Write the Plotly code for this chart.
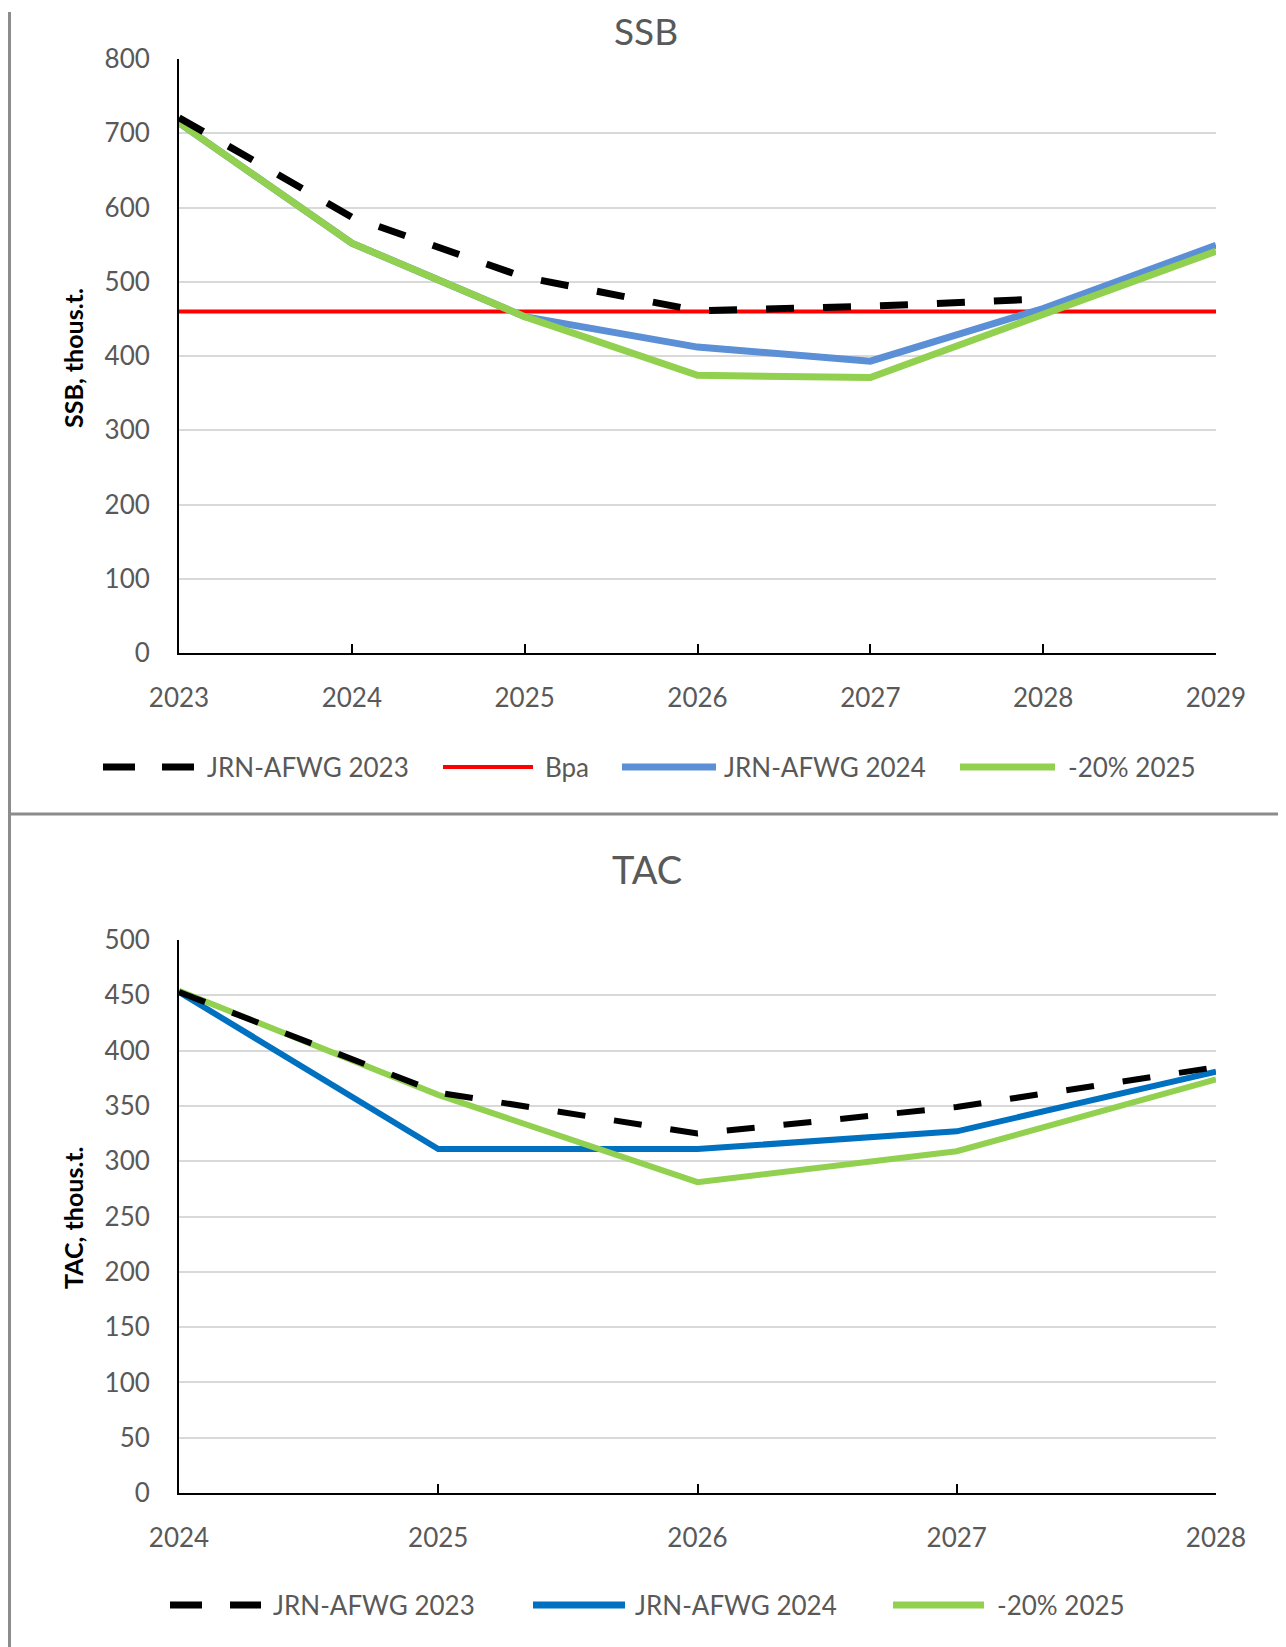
import plotly.graph_objects as go

# the page body adds an 8px margin, so the figure is drawn 8px smaller and
# every layout coordinate below is given in page pixels and shifted by it
PAGE_W, PAGE_H = 1286, 1647
OFF = 8
W, H = PAGE_W - OFF, PAGE_H - OFF

# SSB panel (thous. t)
ssb_years = [2023, 2024, 2025, 2026, 2027, 2028, 2029]
ssb_jrn_2023 = [721, 587, 506, 461, 467, 477, None]
ssb_jrn_2024 = [714, 552, 453, 412, 393, 464, 549]
ssb_cut_2025 = [714, 552, 453, 374, 371, 455, 541]
bpa_years = [2023, 2029]
bpa_values = [460, 460]

# TAC panel (thous. t)
tac_years = [2024, 2025, 2026, 2027, 2028]
tac_jrn_2023 = [453, 362, 325, 349, 385]
tac_jrn_2024 = [453, 311, 311, 327, 381]
tac_cut_2025 = [454, 360, 281, 309, 374]

FONT = "Lato"
GREY_TXT = "#595959"
BLACK = "#000000"
RED = "#FF0000"
LIGHT_BLUE = "#5B8FD6"
DARK_BLUE = "#0070C0"
GREEN = "#92D050"
DASH = "28px,29px"


def px(x):
    return (x - OFF) / W


def py(y):
    return 1 - (y - OFF) / H


fig = go.Figure()

# top panel: red first, black dashed on top
fig.add_trace(go.Scatter(x=bpa_years, y=bpa_values, mode="lines", line=dict(color=RED, width=4),
                         name="Bpa", xaxis="x", yaxis="y"))
fig.add_trace(go.Scatter(x=ssb_years, y=ssb_jrn_2024, mode="lines", line=dict(color=LIGHT_BLUE, width=7),
                         name="JRN-AFWG 2024", xaxis="x", yaxis="y"))
fig.add_trace(go.Scatter(x=ssb_years, y=ssb_cut_2025, mode="lines", line=dict(color=GREEN, width=7),
                         name="-20% 2025", xaxis="x", yaxis="y"))
fig.add_trace(go.Scatter(x=ssb_years, y=ssb_jrn_2023, mode="lines", line=dict(color=BLACK, width=7, dash=DASH),
                         name="JRN-AFWG 2023", xaxis="x", yaxis="y"))

# bottom panel
fig.add_trace(go.Scatter(x=tac_years, y=tac_jrn_2024, mode="lines", line=dict(color=DARK_BLUE, width=6),
                         name="JRN-AFWG 2024", xaxis="x2", yaxis="y2"))
fig.add_trace(go.Scatter(x=tac_years, y=tac_cut_2025, mode="lines", line=dict(color=GREEN, width=6),
                         name="-20% 2025", xaxis="x2", yaxis="y2"))
fig.add_trace(go.Scatter(x=tac_years, y=tac_jrn_2023, mode="lines", line=dict(color=BLACK, width=6, dash=DASH),
                         name="JRN-AFWG 2023", xaxis="x2", yaxis="y2"))

tickfont = dict(family=FONT, size=26, color=GREY_TXT)
xcommon = dict(showline=True, linecolor=BLACK, linewidth=2, ticks="inside", ticklen=9, tickwidth=2,
               tickcolor=BLACK, showgrid=False, zeroline=False, tickfont=tickfont,
               ticklabelstandoff=21, domain=[px(179), px(1216)], automargin=False)
ycommon = dict(showline=True, linecolor=BLACK, linewidth=2, ticks="", showgrid=True,
               gridcolor="#D9D9D9", gridwidth=2, zeroline=False, tickfont=tickfont,
               ticklabelstandoff=22, automargin=False)

fig.update_layout(
    width=W, height=H,
    margin=dict(l=0, r=0, t=0, b=0, pad=0, autoexpand=False),
    paper_bgcolor="white", plot_bgcolor="white",
    showlegend=False,
    xaxis=dict(xcommon, range=[2023, 2029], tickvals=ssb_years, anchor="y"),
    yaxis=dict(ycommon, range=[0, 800], dtick=100, domain=[py(653), py(59)], anchor="x"),
    xaxis2=dict(xcommon, range=[2024, 2028], tickvals=tac_years, anchor="y2"),
    yaxis2=dict(ycommon, range=[0, 500], dtick=50, domain=[py(1493), py(940)], anchor="x2"),
)

ann = []
ann.append(dict(text="SSB", x=px(646), y=py(31), font=dict(family=FONT, size=37, color=GREY_TXT)))
ann.append(dict(text="TAC", x=px(647), y=py(869), font=dict(family=FONT, size=38, color=GREY_TXT)))
ann.append(dict(text="<b>SSB, thous.t.</b>", x=px(73), y=py(358), textangle=-90,
                font=dict(family=FONT, size=25, color=BLACK)))
ann.append(dict(text="<b>TAC, thous.t.</b>", x=px(73), y=py(1218), textangle=-90,
                font=dict(family=FONT, size=25, color=BLACK)))
for a in ann:
    a.update(xref="paper", yref="paper", showarrow=False, xanchor="center", yanchor="middle")

shapes = []

# custom legends (Excel-style long keys)
legend_top = [
    ("JRN-AFWG 2023", BLACK, 7, "32px,27px", 103, 194, 205),
    ("Bpa", RED, 4, "solid", 443, 533, 543),
    ("JRN-AFWG 2024", LIGHT_BLUE, 7, "solid", 622, 716, 722),
    ("-20% 2025", GREEN, 7, "solid", 960, 1055, 1066),
]
legend_bottom = [
    ("JRN-AFWG 2023", BLACK, 7, "32px,28px", 170, 261, 271),
    ("JRN-AFWG 2024", DARK_BLUE, 7, "solid", 533, 625, 633),
    ("-20% 2025", GREEN, 7, "solid", 893, 984, 995),
]
for items, ly in ((legend_top, 767), (legend_bottom, 1605)):
    for label, col, wid, dash, x0, x1, tx in items:
        shapes.append(dict(type="line", xref="paper", yref="paper", x0=px(x0), x1=px(x1),
                           y0=py(ly), y1=py(ly), line=dict(color=col, width=wid, dash=dash)))
        ann.append(dict(text=label, xref="paper", yref="paper", x=px(tx), y=py(ly), showarrow=False,
                        xanchor="left", yanchor="middle", font=dict(family=FONT, size=26, color=GREY_TXT)))

# chart frames
frame = "#8C8C8C"
shapes.append(dict(type="line", xref="paper", yref="paper", x0=px(9.5), x1=px(9.5), y0=py(12), y1=0,
                   line=dict(color=frame, width=3)))
shapes.append(dict(type="line", xref="paper", yref="paper", x0=px(9), x1=1, y0=py(814), y1=py(814),
                   line=dict(color=frame, width=3)))
shapes.append(dict(type="line", xref="paper", yref="paper", x0=px(1284), x1=px(1284), y0=py(814), y1=0,
                   line=dict(color=frame, width=3)))
shapes.append(dict(type="line", xref="paper", yref="paper", x0=px(1285), x1=px(1285), y0=py(12), y1=py(814),
                   line=dict(color="#D0D0D0", width=2)))

fig.update_layout(annotations=ann, shapes=shapes)

fig.write_html("out.html")
